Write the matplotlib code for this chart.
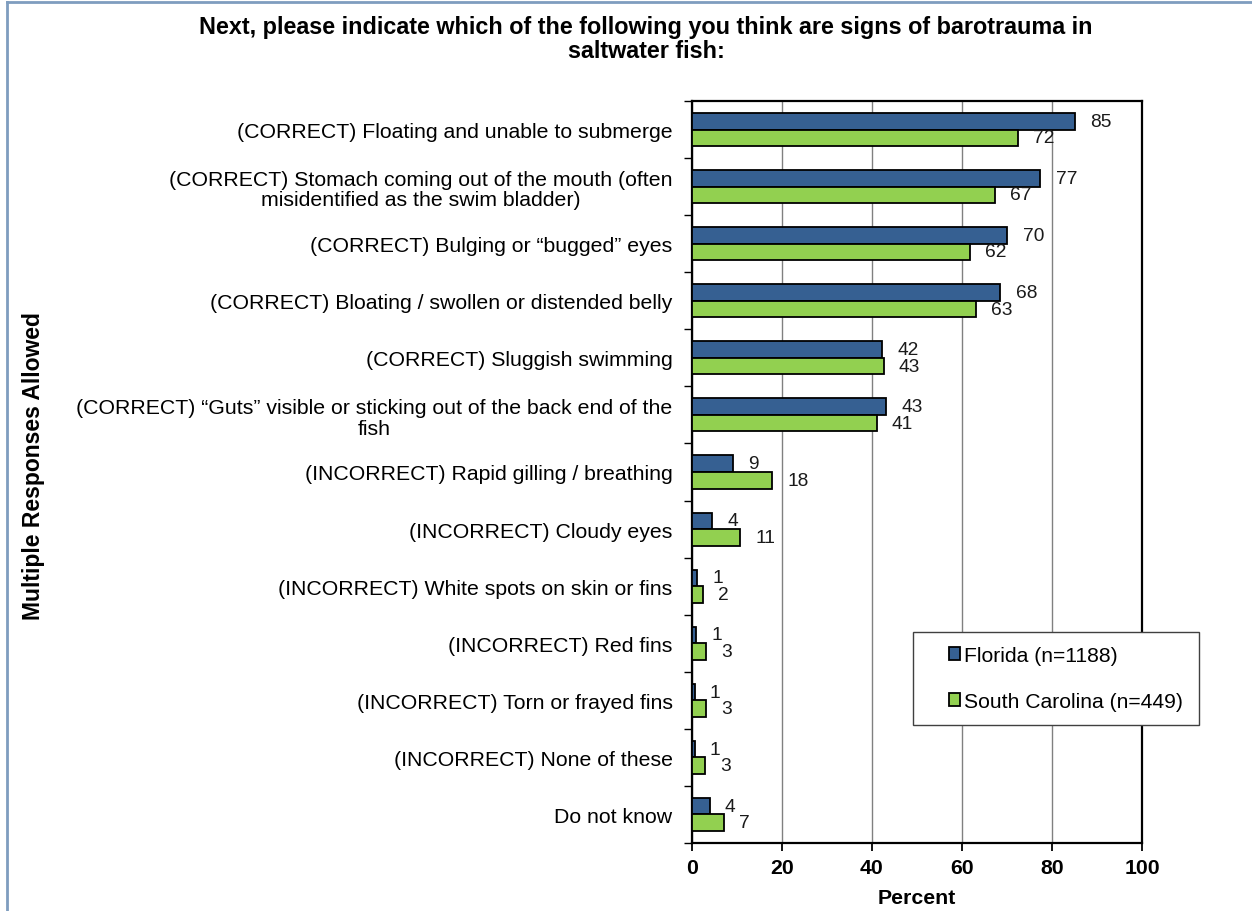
import matplotlib
matplotlib.use("Agg")
import matplotlib.pyplot as plt
from matplotlib.patches import Rectangle
from matplotlib.lines import Line2D
import numpy as np

plt.rcParams['font.family'] = ['Liberation Sans', 'DejaVu Sans']

categories = [
    "(CORRECT) Floating and unable to submerge",
    "(CORRECT) Stomach coming out of the mouth (often\nmisidentified as the swim bladder)",
    "(CORRECT) Bulging or \u201cbugged\u201d eyes",
    "(CORRECT) Bloating / swollen or distended belly",
    "(CORRECT) Sluggish swimming",
    "(CORRECT) \u201cGuts\u201d visible or sticking out of the back end of the\nfish",
    "(INCORRECT) Rapid gilling / breathing",
    "(INCORRECT) Cloudy eyes",
    "(INCORRECT) White spots on skin or fins",
    "(INCORRECT) Red fins",
    "(INCORRECT) Torn or frayed fins",
    "(INCORRECT) None of these",
    "Do not know",
]
florida = [85.1, 77.4, 70.1, 68.5, 42.3, 43.2, 9.0, 4.5, 1.2, 0.9, 0.6, 0.6, 3.9]
south_carolina = [72.4, 67.3, 61.8, 63.0, 42.6, 41.0, 17.8, 10.7, 2.4, 3.0, 3.0, 2.8, 7.0]
florida_labels = ["85", "77", "70", "68", "42", "43", "9", "4", "1", "1", "1", "1", "4"]
sc_labels = ["72", "67", "62", "63", "43", "41", "18", "11", "2", "3", "3", "3", "7"]
series_names = ["Florida (n=1188)", "South Carolina (n=449)"]
xticks = [0, 20, 40, 60, 80, 100]

W, H = 1252, 912
fig = plt.figure(figsize=(W / 100, H / 100), dpi=100)
ax = fig.add_axes([692 / W, 1 - 844 / H, (1142 - 692) / W, (844 - 102) / H])

n = len(categories)
y = np.arange(n)
bh = 0.29
fl_color = "#366092"
sc_color = "#92D050"
ax.barh(y - bh / 2, florida, height=bh, color=fl_color, edgecolor="black",
        linewidth=1.3, zorder=3, label=series_names[0])
ax.barh(y + bh / 2, south_carolina, height=bh, color=sc_color, edgecolor="black",
        linewidth=1.3, zorder=3, label=series_names[1])

for yi, v, t in zip(y, florida, florida_labels):
    ax.annotate(t, (v, yi - bh / 2), xytext=(11, 0), textcoords="offset points",
                ha="left", va="center", fontsize=13.8, color="#1a1a1a")
for yi, v, t in zip(y, south_carolina, sc_labels):
    ax.annotate(t, (v, yi + bh / 2), xytext=(11, 0), textcoords="offset points",
                ha="left", va="center", fontsize=13.8, color="#1a1a1a")

ax.set_xlim(0, 100)
ax.set_ylim(n - 0.5, -0.5)
ax.set_xticks(xticks)
ax.set_xticklabels([str(v) for v in xticks], fontsize=15.3, fontweight="bold")
ax.set_yticks(y)
ax.set_yticklabels(categories, fontsize=15.3)
for lbl in ax.get_yticklabels():
    lbl.set_multialignment("center")
    lbl.set_linespacing(1.12)
ax.set_yticks(np.arange(-0.5, n, 1.0), minor=True)
ax.tick_params(axis="y", which="major", length=0, pad=14)
ax.tick_params(axis="y", which="minor", length=6, width=1.0, direction="out")
ax.tick_params(axis="x", which="major", length=6, width=1.3, direction="out", pad=5)

ax.grid(axis="x", color="#808080", linewidth=1.0, zorder=0)
for s in ax.spines.values():
    s.set_linewidth(1.6)
    s.set_color("black")

ax.set_xlabel("Percent", fontsize=15.3, fontweight="bold", labelpad=8)

fig.text(34 / W, 1 - 466 / H, "Multiple Responses Allowed", rotation=90,
         ha="center", va="center", fontsize=16.5, fontweight="bold")

fig.text(646 / W, 1 - 16 / H,
         "Next, please indicate which of the following you think are signs of barotrauma in\nsaltwater fish:",
         ha="center", va="top", fontsize=16.8, fontweight="bold", linespacing=1.05)

# legend box
fig.patches.append(Rectangle((913 / W, 1 - 726 / H), (1199 - 913) / W, (726 - 633) / H,
                             transform=fig.transFigure, facecolor="white",
                             edgecolor="#404040", linewidth=1.0, zorder=5))
handles = [Rectangle((0, 0), 1, 1, facecolor=fl_color, edgecolor="black", linewidth=1.3),
           Rectangle((0, 0), 1, 1, facecolor=sc_color, edgecolor="black", linewidth=1.3)]
leg = fig.legend(handles, series_names, loc="center left",
                 bbox_to_anchor=(938 / W, 1 - 679.5 / H), frameon=False,
                 fontsize=15.2, handlelength=0.55, handleheight=0.55, handletextpad=0.2,
                 labelspacing=1.25, borderpad=0)
leg.set_zorder(6)

# outer chart border (left and top visible)
fig.add_artist(Line2D([7 / W, 7 / W], [0, 1 - 3 / H], transform=fig.transFigure,
                      color="#7F9DBF", linewidth=2))
fig.add_artist(Line2D([7 / W, 1], [1 - 3 / H, 1 - 3 / H], transform=fig.transFigure,
                      color="#7F9DBF", linewidth=2))

fig.savefig("out.png", dpi=100)
